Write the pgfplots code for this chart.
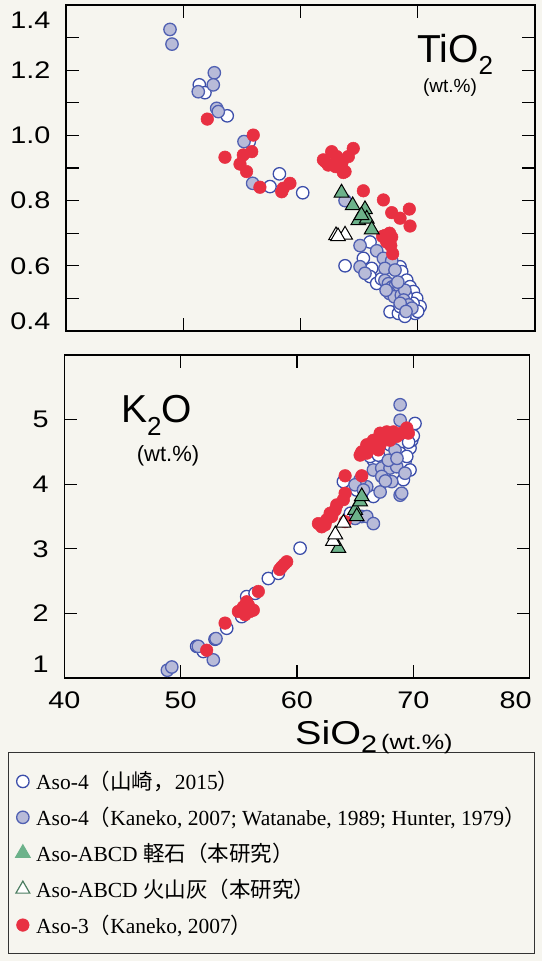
\documentclass[border=0pt]{standalone}
\usepackage{pgfplots}
\pgfplotsset{compat=1.18}
\usepackage{fontspec}
\usepackage{graphicx}
\setmainfont{Liberation Sans}
\newfontfamily\widesans[FakeStretch=1.2]{Liberation Sans}
\newfontfamily\legserif{Liberation Serif}
\newfontfamily\jp{Noto Sans CJK JP}
\definecolor{bg}{RGB}{246,245,239}
\definecolor{cblue}{RGB}{60,78,170}
\definecolor{cfillb}{RGB}{184,187,216}
\definecolor{cblue2}{RGB}{80,96,178}
\definecolor{cred}{RGB}{232,48,66}
\definecolor{cgreen}{RGB}{108,178,138}
\pgfplotsset{
 openb/.style={only marks, mark=*, mark size=6.2pt, mark options={fill=white, draw=cblue, line width=1.3pt}},
 fillb/.style={only marks, mark=*, mark size=6.2pt, mark options={fill=cfillb, draw=cblue2, line width=1.3pt}},
 redp/.style={only marks, mark=*, mark size=6.3pt, mark options={fill=cred, draw=cred, line width=0.5pt}},
 greent/.style={only marks, mark=triangle*, mark size=8.5pt, mark options={fill=cgreen, draw=black, line width=1pt}},
 opent/.style={only marks, mark=triangle*, mark size=8.5pt, mark options={fill=white, draw=black, line width=1pt}},
 greentleg/.style={only marks, mark=triangle*, mark size=8.5pt, mark options={fill=cgreen, draw=cgreen, line width=1pt}},
 opentleg/.style={only marks, mark=triangle*, mark size=8pt, mark options={fill=white, draw=cgreen!70!black, line width=1.2pt}},
 base/.style={scale only axis, xmin=40, xmax=80, tick align=inside,
   major tick length=13pt, axis line style={line width=1.4pt},
   tick style={black, line width=1.3pt},
   tick label style={font=\widesans\fontsize{24}{24}\selectfont},
   yticklabel style={xshift=-12pt},
   xticklabel style={yshift=-10pt},
   /pgf/number format/assume math mode=true},
}
\begin{document}
\begin{tikzpicture}
\fill[bg] (0pt,0pt) rectangle (542pt,961pt);
\path[use as bounding box] (0pt,0pt) rectangle (542pt,961pt);
% ---------- TiO2 ----------
\begin{axis}[base, at={(66pt,630pt)}, anchor=south west, width=469pt, height=326pt,
  ymin=0.4, ymax=1.4, xtick={50,60,70}, xticklabels={},
  ytick={0.4,0.5,0.6,0.7,0.8,0.9,1.0,1.1,1.2,1.3,1.4},
  yticklabels={\raisebox{10pt}[\height][\depth]{0.4},,0.6,,0.8,,1.0,,1.2,,\raisebox{-15pt}[\height][\depth]{1.4}}]
\addplot[openb, forget plot] coordinates {
(51.37,1.155) (51.85,1.131) (53.75,1.06) (55.63,0.981) (58.2,0.882) (57.4,0.843) (60.19,0.824)
(63.8,0.60) (65.36,0.623) (66.07,0.592) (65.93,0.567) (66.5,0.546) (65.93,0.673) (68.49,0.597)
(68.63,0.582) (69.06,0.556) (69.34,0.536) (69.63,0.521) (69.91,0.50) (70.2,0.475) (67.64,0.459)
(68.35,0.454) (69.34,0.464) (69.77,0.454) (68.49,0.475) (68.9,0.49) (67.3,0.55) (68.0,0.52)
(69.6,0.485) (70.0,0.46) (68.9,0.445) (67.9,0.53) (69.0,0.51) (66.9,0.56)};
\addplot[fillb, forget plot] coordinates {
(48.87,1.325) (49.04,1.28) (52.65,1.192) (52.56,1.155) (51.28,1.134) (52.85,1.083) (52.99,1.073)
(55.18,0.981) (55.92,0.853) (63.8,0.80) (65.08,0.662) (66.5,0.646) (65.08,0.597) (65.5,0.577)
(67.07,0.623) (67.78,0.616) (67.2,0.592) (68.06,0.587) (67.2,0.555) (67.5,0.545) (67.8,0.535)
(68.1,0.54) (68.4,0.53) (67.6,0.515) (68.0,0.505) (68.6,0.51) (68.9,0.525) (67.3,0.525)
(68.3,0.55) (68.8,0.495) (69.2,0.48) (68.5,0.485) (69.5,0.47) (69.0,0.46)};
\addplot[redp, forget plot] coordinates {
(52.05,1.05) (55.97,1.001) (53.56,0.933) (55.12,0.94) (55.84,0.95) (54.84,0.912) (55.4,0.889)
(56.54,0.841) (58.53,0.838) (59.1,0.853) (58.4,0.827)
(61.95,0.925) (62.66,0.95) (63.09,0.935) (62.37,0.909) (63.52,0.914) (63.8,0.889) (64.5,0.96)
(64.08,0.935) (63.0,0.904) (62.1,0.92) (63.65,0.886)
(65.36,0.83) (67.07,0.802) (67.78,0.763) (68.49,0.746) (69.28,0.774) (69.34,0.722)
(67.2,0.693) (67.78,0.688) (67.7,0.662) (67.86,0.637) (67.35,0.673) (67.6,0.70) (67.0,0.69)};
\addplot[greent, forget plot] coordinates {
(63.5,0.824) (64.45,0.785) (65.5,0.773) (64.93,0.739) (65.65,0.744) (66.07,0.711) (65.2,0.755)};
\addplot[opent, forget plot] coordinates {(63.03,0.693) (63.8,0.695) (63.2,0.69)};
\end{axis}
% ---------- K2O ----------
\begin{axis}[base, at={(64.3pt,283pt)}, anchor=south west, width=465.3pt, height=323pt,
  ymin=1, ymax=6, xtick={40,50,60,70,80},
  xticklabels={40,50,60,70,\hspace*{-28pt}80},
  ytick={1,2,3,4,5},
  yticklabels={\raisebox{14pt}[\height][\depth]{1},2,3,4,5},
  legend cell align=left,
  legend style={at={(axis description cs:-0.121,-0.229)}, anchor=north west,
    draw=black!80, line width=1pt, fill=bg,
    font=\legserif\fontsize{21.5}{21.5}\selectfont, row sep=12pt, column sep=4pt,
    inner xsep=7pt, inner ysep=17pt}]
\addplot[openb, forget plot] coordinates {
(51.95,1.41) (51.38,1.49) (52.96,1.60) (53.96,1.77) (55.25,1.95) (55.68,2.26) (56.4,2.31)
(57.54,2.54) (58.4,2.62) (60.27,3.01) (63.99,4.04) (65.14,3.91) (66.57,4.37) (69.29,4.35)
(69.72,4.56) (69.87,4.68) (66.57,3.81) (68.0,4.61) (66.29,4.43) (68.87,4.48) (69.44,4.43)
(69.72,4.22) (69.15,4.07) (70.15,4.94) (70.0,4.75) (69.6,4.65) (67.0,4.45) (64.6,3.55)};
\addplot[fillb, forget plot] coordinates {
(48.86,1.12) (49.24,1.17) (51.52,1.49) (52.81,1.28) (53.04,1.61) (68.87,5.23) (68.87,4.99)
(66.57,4.22) (67.29,4.25) (68.0,4.25) (68.58,4.27) (69.29,4.17) (67.29,4.12) (68.15,4.04)
(67.15,3.88) (68.87,3.83) (69.0,3.86) (66.0,3.96) (65.43,4.07) (65.0,3.99) (65.72,3.91)
(65.57,3.50) (66.0,3.50) (66.57,3.39) (65.0,3.47) (67.86,4.37) (68.43,4.53) (68.6,4.4) (67.6,4.05)};
\addplot[redp, forget plot] coordinates {
(52.24,1.43) (53.82,1.85) (54.96,2.03) (55.39,2.10) (55.68,2.18) (55.97,2.03) (55.54,1.98)
(56.25,2.05) (55.82,2.13) (56.68,2.34) (58.51,2.68) (58.69,2.72) (59.12,2.80) (58.9,2.76)
(61.84,3.39) (62.41,3.37) (62.85,3.55) (63.42,3.68) (64.14,3.86) (63.99,3.76) (63.28,3.60)
(62.99,3.50) (64.14,3.42) (62.56,3.45) (62.13,3.34) (64.14,4.13) (65.57,4.13) (65.43,4.45)
(66.29,4.58) (65.57,4.50) (66.0,4.61) (66.57,4.68) (67.15,4.79) (67.72,4.81) (69.44,4.87)
(69.58,4.79) (68.58,4.74) (68.0,4.68) (67.15,4.61) (67.44,4.74) (66.43,4.56) (67.0,4.53)
(69.0,4.79) (68.3,4.81) (66.0,4.48)};
\addplot[greent, forget plot] coordinates {
(63.56,3.01) (65.0,3.60) (65.14,3.50) (65.43,3.73) (65.57,3.81)};
\addplot[opent, forget plot] coordinates {(63.1,3.12) (63.3,3.22) (64.0,3.40)};
\addlegendimage{openb}
\addlegendentry{Aso-4{\jp（山崎，}2015{\jp）}}
\addlegendimage{fillb}
\addlegendentry{Aso-4{\jp（}Kaneko, 2007; Watanabe, 1989; Hunter, 1979{\jp）}}
\addlegendimage{greentleg}
\addlegendentry{Aso-ABCD {\jp 軽石（本研究）}}
\addlegendimage{opentleg}
\addlegendentry{Aso-ABCD {\jp 火山灰（本研究）}}
\addlegendimage{redp}
\addlegendentry{Aso-3{\jp（}Kaneko, 2007{\jp）}}
\end{axis}
% ---------- labels ----------
\node[anchor=base west, inner sep=0] at (417pt,898pt)
  {\fontsize{39}{39}\selectfont TiO\raisebox{-12pt}{\fontsize{26}{26}\selectfont 2}};
\node[inner sep=0] at (450pt,873pt) {\fontsize{19}{19}\selectfont (wt.\%)};
\node[anchor=base west, inner sep=0] at (121pt,538pt)
  {\fontsize{39}{39}\selectfont K\raisebox{-13pt}{\fontsize{26}{26}\selectfont 2}O};
\node[inner sep=0] at (168pt,505pt) {\fontsize{22}{22}\selectfont (wt.\%)};
\node[anchor=base west, inner sep=0] at (295pt,216pt)
  {\widesans\fontsize{33}{33}\selectfont SiO\raisebox{-8pt}{\fontsize{24}{24}\selectfont 2}\hspace{4pt}\raisebox{-5pt}{\fontsize{21}{21}\selectfont (wt.\%)}};
\end{tikzpicture}
\end{document}
